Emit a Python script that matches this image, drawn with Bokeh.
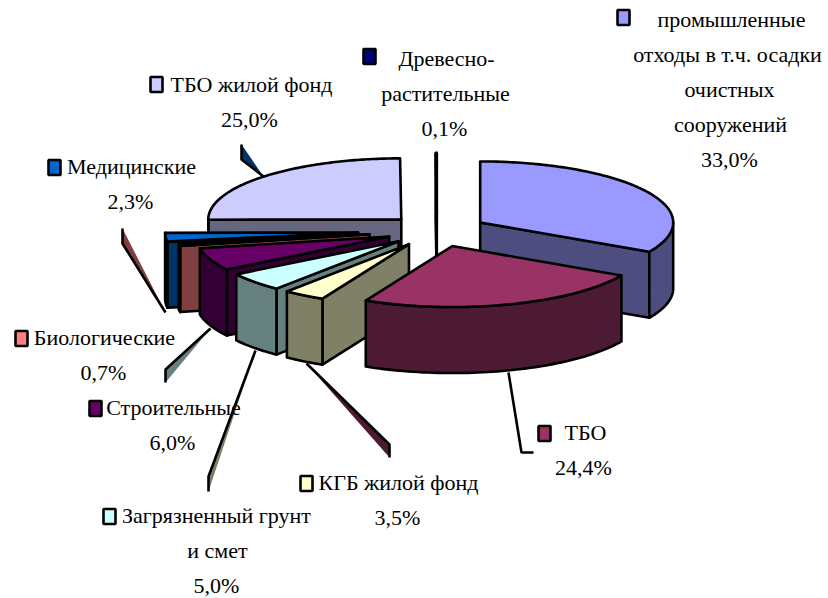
import numpy as np
from bokeh.plotting import figure
from bokeh.models import Range1d
from bokeh.core.properties import value
from bokeh.embed import file_html
from bokeh.resources import INLINE

# --- data -----------------------------------------------------------------
categories = ["промышленные отходы в т.ч. осадки очистных сооружений", "ТБО",
              "КГБ жилой фонд", "Загрязненный грунт и смет", "Строительные",
              "Биологические", "Медицинские", "ТБО жилой фонд",
              "Древесно-растительные"]
shares = [33.0, 24.4, 3.5, 5.0, 6.0, 0.7, 2.3, 25.0, 0.1]
explode = [0.26, 0.267, 0.267, 0.267, 0.267, 0.355, 0.41, 0.26, 0.26]
top_colors = ["#9999FF", "#993366", "#FFFFCC", "#CCFFFF", "#660066",
              "#FF8080", "#0066CC", "#CCCCFF", "#000080"]
side_colors = ["#4D4D80", "#4D1A33", "#808066", "#668080", "#330033",
               "#804040", "#003366", "#666680", "#000040"]
draw_order = [8, 0, 7, 6, 5, 4, 3, 2, 1]

# --- layout (page pixels) --------------------------------------------------
CX, CY = 436.5, 230.0      # pie centre before explosion
RX, RY = 193.0, 61.0       # radii of the projected ellipse
DEPTH = 66.0
LW = 2.6
FONT = "Liberation Serif"
SIZE = "22px"

# text lines: (centre x, baseline y, text)
labels = [
    (731, 19, "промышленные"), (727, 54, "отходы в т.ч. осадки"), (729, 89, "очистных"),
    (730, 124, "сооружений"), (729, 159, "33,0%"),
    (446, 58, "Древесно-"), (445, 93, "растительные"), (444, 128, "0,1%"),
    (251, 84, "ТБО жилой фонд"), (249, 119, "25,0%"),
    (131, 166, "Медицинские"), (130, 201, "2,3%"),
    (104, 337, "Биологические"), (103, 372, "0,7%"),
    (173, 407, "Строительные"), (172, 442, "6,0%"),
    (216, 515, "Загрязненный грунт"), (217, 550, "и смет"), (216, 585, "5,0%"),
    (398, 482, "КГБ жилой фонд"), (397, 517, "3,5%"),
    (585, 432, "ТБО"), (583, 467, "24,4%"),
]
# legend keys: (centre x, centre y, category index)
keys = [(623, 17, 0), (369, 56, 8), (156, 84, 7), (54, 167, 6), (21, 338, 5),
        (95, 408, 4), (109, 516, 3), (306, 483, 2), (544, 433, 1)]
# leader callouts: (x points, y points, fill colour or None)
leaders = [
    ([263, 241, 241], [176, 159, 144], "#003366"),
    ([165, 122, 122], [312, 243, 228], "#804040"),
    ([210, 165, 165], [328, 369, 382], "#668080"),
    ([255, 208, 208], [350, 476, 491], "#808066"),
    ([306, 389, 389], [363, 444, 457], "#4D1A33"),
    ([508, 521, 533], [372, 452, 452], None),
    ([436, 436], [151, 170], None),
]

p = figure(width=828, height=598, x_range=Range1d(0, 828), y_range=Range1d(598, 0),
           toolbar_location=None, output_backend="svg", min_border=0)
p.axis.visible = False
p.grid.visible = False
p.outline_line_color = None
p.background_fill_color = "white"
p.border_fill_color = "white"


def rim(ax, ay, t):
    return ax + RX * np.sin(t), ay - RY * np.cos(t)


def poly(xs, ys, fill):
    p.patch(list(xs), list(ys), fill_color=fill, line_color="black", line_width=LW,
            line_join="round")


# leaders lie behind the pie
for lx, ly, fill in leaders:
    if fill:
        p.patch(lx, ly, fill_color=fill, line_color=None)
    p.line(lx, ly, line_color="black", line_width=LW)

fr = np.array(shares) / sum(shares) * 2 * np.pi
ends = np.cumsum(fr)
starts = ends - fr

for i in draw_order:
    a0, a1 = starts[i], ends[i]
    mid = (a0 + a1) / 2
    ax = CX + explode[i] * RX * np.sin(mid)
    ay = CY - explode[i] * RY * np.cos(mid)
    top, side = top_colors[i], side_colors[i]
    # cut faces
    if np.sin(a0) < 0:
        rx, ry = rim(ax, ay, a0)
        poly([ax, rx, rx, ax], [ay, ry, ry + DEPTH, ay + DEPTH], side)
    if np.sin(a1) > 0:
        rx, ry = rim(ax, ay, a1)
        poly([ax, rx, rx, ax], [ay, ry, ry + DEPTH, ay + DEPTH], side)
    # outer wall, front half only
    w0, w1 = max(a0, np.pi / 2), min(a1, 3 * np.pi / 2)
    if w1 > w0:
        t = np.linspace(w0, w1, 60)
        wx, wy = rim(ax, ay, t)
        poly(np.r_[wx, wx[::-1]], np.r_[wy, wy[::-1] + DEPTH], side)
    # top face
    t = np.linspace(a0, a1, 120)
    tx, ty = rim(ax, ay, t)
    poly(np.r_[ax, tx], np.r_[ay, ty], top)

p.text([l[0] for l in labels], [l[1] for l in labels], text=[l[2] for l in labels],
       text_font=value(FONT), text_font_size=value(SIZE), text_color="black",
       text_align="center", text_baseline="alphabetic")

p.rect([k[0] for k in keys], [k[1] for k in keys], width=12, height=15,
       fill_color=[top_colors[k[2]] for k in keys], line_color="black", line_width=2.6)

open("out.html", "w").write(file_html(p, INLINE))
